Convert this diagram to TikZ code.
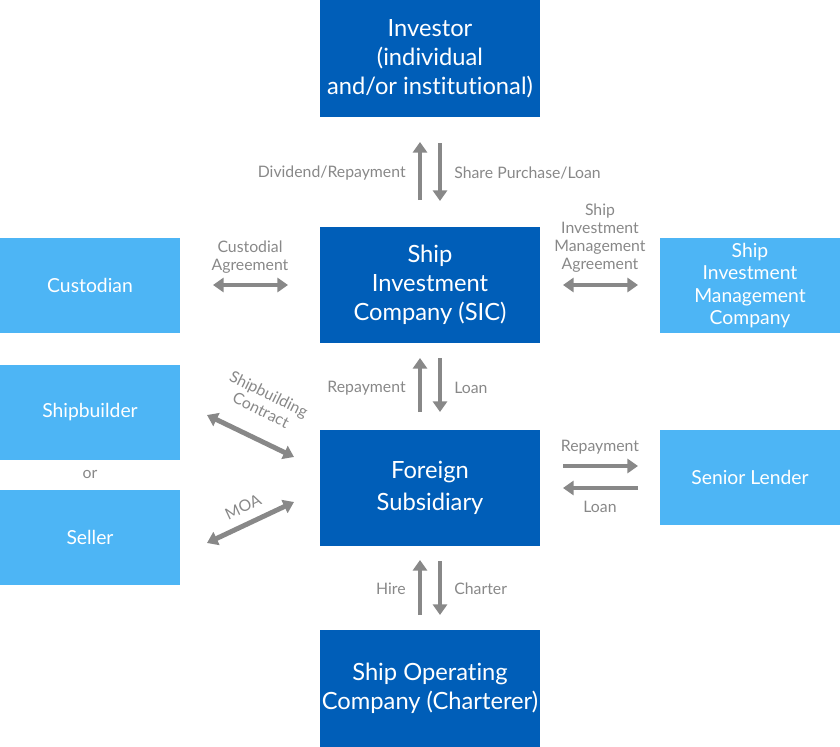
\documentclass[tikz,border=0pt]{standalone}
\usepackage{fontspec}
\setmainfont{Lato}[Ligatures=NoCommon]
\usetikzlibrary{arrows.meta}
\usetikzlibrary{calc}

\definecolor{darkblue}{HTML}{005EB8}
\definecolor{lightblue}{HTML}{4DB5F5}
\definecolor{flowgray}{HTML}{888888}

\begin{document}
\begin{tikzpicture}[x=0.02cm, y=-0.02cm,
  mainbox/.style={fill=darkblue, text=white, align=center, inner sep=0pt,
    minimum width=4.4cm, minimum height=2.33cm, font=\fontsize{13.5}{16.4}\selectfont},
  sidebox/.style={fill=lightblue, text=white, align=center, inner sep=0pt,
    minimum width=3.6cm, minimum height=1.9cm, font=\fontsize{11}{12.8}\selectfont},
  lbl/.style={text=flowgray, align=center, inner sep=0pt, font=\fontsize{9}{10.2}\selectfont},
  flow/.style={draw=flowgray, line width=2.8pt, -{Triangle[length=6pt,width=8pt]}},
  both/.style={draw=flowgray, line width=2.8pt, {Triangle[length=6pt,width=8pt]}-{Triangle[length=6pt,width=8pt]}}]

\useasboundingbox (0,0) rectangle (840,747);

%% Boxes %%
% center column %
\node[mainbox] (inv) at (430,58.5) {Investor\\(individual\\and/or institutional)};
\node[mainbox] (sic) at (430,285) {Ship\\Investment\\Company (SIC)};
\node[mainbox, font=\fontsize{13.5}{18}\selectfont] (fsub) at (430,488) {Foreign\\Subsidiary};
\node[mainbox] (soc) at (430,688.5) {Ship Operating\\Company (Charterer)};

% left column %
\node[sidebox] (cust) at (90,285.5) {Custodian};
\node[sidebox] (build) at (90,412.5) {Shipbuilder};
\node[lbl] (or) at (90,474) {or};
\node[sidebox] (sell) at (90,537.5) {Seller};

% right column %
\node[sidebox] (simc) at (750,285.5) {Ship\\Investment\\Management\\Company};
\node[sidebox] (lend) at (750,477.5) {Senior Lender};

%% Arrow ends %%
\coordinate (a1) at (420,200); \coordinate (a2) at (420,142);
\coordinate (b1) at (440,143); \coordinate (b2) at (440,201);
\coordinate (c1) at (420,412); \coordinate (c2) at (420,358);
\coordinate (d1) at (440,358); \coordinate (d2) at (440,412);
\coordinate (e1) at (420,615); \coordinate (e2) at (420,560);
\coordinate (f1) at (440,561); \coordinate (f2) at (440,615);
\coordinate (g1) at (213,285); \coordinate (g2) at (288,285);
\coordinate (h1) at (563,285); \coordinate (h2) at (638,285);
\coordinate (k1) at (563,466); \coordinate (k2) at (638,466);
\coordinate (m1) at (638,488); \coordinate (m2) at (563,488);
\coordinate (n1) at (207,415); \coordinate (n2) at (294,457);
\coordinate (p1) at (207,543); \coordinate (p2) at (294,502);

%% Connection arrows %%
% investor and SIC %
\draw[flow] (a1) -- (a2);
\draw[flow] (b1) -- (b2);
\node[lbl, anchor=east] (divrep) at (406,173) {Dividend/Repayment};
\node[lbl, anchor=west] (share) at (454,173) {Share Purchase/Loan};

% SIC and foreign subsidiary %
\draw[flow] (c1) -- (c2);
\draw[flow] (d1) -- (d2);
\node[lbl, anchor=east] (rep1) at (406,388) {Repayment};
\node[lbl, anchor=west] (loan1) at (454,388) {Loan};

% foreign subsidiary and operator %
\draw[flow] (e1) -- (e2);
\draw[flow] (f1) -- (f2);
\node[lbl, anchor=east] (hire) at (406,589) {Hire};
\node[lbl, anchor=west] (charter) at (454,589) {Charter};

% side agreements %
\draw[both] (g1) -- (g2);
\node[lbl] (custag) at (250,257) {Custodial\\Agreement};
\draw[both] (h1) -- (h2);
\node[lbl] (mgmtag) at (600,238) {Ship\\Investment\\Management\\Agreement};

% senior lender %
\draw[flow] (k1) -- (k2);
\draw[flow] (m1) -- (m2);
\node[lbl] (rep2) at (600,447) {Repayment};
\node[lbl] (loan2) at (600,507) {Loan};

% shipbuilder and seller %
\draw[both] (n1) -- (n2);
\node[lbl, rotate=-26] (sbc) at (265,402) {Shipbuilding\\Contract};
\draw[both] (p1) -- (p2);
\node[lbl, rotate=25] (moa) at (243,507) {MOA};

\end{tikzpicture}
\end{document}
